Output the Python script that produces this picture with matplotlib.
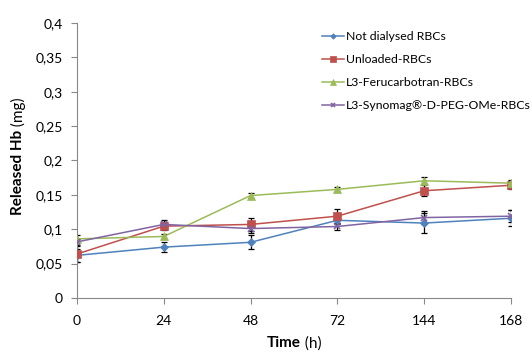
import numpy as np
import matplotlib
matplotlib.use("Agg")
import matplotlib.pyplot as plt
from matplotlib.ticker import FuncFormatter

plt.rcParams['font.family'] = ['Lato', 'DejaVu Sans']

time_labels = ["0", "24", "48", "72", "144", "168"]

not_dialysed = [0.062, 0.074, 0.081, 0.113, 0.109, 0.116]
not_dialysed_err = [0.010, 0.007, 0.010, 0.004, 0.015, 0.012]
unloaded = [0.064, 0.1045, 0.107, 0.119, 0.156, 0.164]
unloaded_err = [0.012, 0.006, 0.009, 0.011, 0.008, 0.005]
ferucarbotran = [0.086, 0.0895, 0.149, 0.158, 0.1705, 0.167]
ferucarbotran_err = [0.005, 0.004, 0.004, 0.004, 0.005, 0.004]
synomag = [0.0816, 0.107, 0.101, 0.104, 0.117, 0.119]
synomag_err = [0.004, 0.006, 0.007, 0.005, 0.009, 0.009]

series = [
    ("Not dialysed RBCs", not_dialysed, not_dialysed_err, "#4F81BD", "D", 4),
    ("Unloaded-RBCs", unloaded, unloaded_err, "#C0504D", "s", 6),
    ("L3-Ferucarbotran-RBCs", ferucarbotran, ferucarbotran_err, "#9BBB59", "^", 6),
    ("L3-Synomag®-D-PEG-OMe-RBCs", synomag, synomag_err, "#8064A2", "x", 5),
]

fig = plt.figure(figsize=(5.32, 3.52), dpi=100)
ax = fig.add_axes([0.1447, 0.1534, 0.8158, 0.7813])

x = np.arange(len(time_labels))
for name, vals, err, col, mk, ms in series:
    ax.errorbar(x, vals, yerr=err, fmt='none', ecolor='black', elinewidth=0.9,
                capsize=2.5, capthick=0.9, zorder=2)
    ax.plot(x, vals, color=col, marker=mk, markersize=ms, linewidth=1.1,
            markeredgewidth=1.2 if mk == 'x' else 0.5, label=name, zorder=3)

ax.set_xlim(0, len(time_labels) - 1)
ax.set_ylim(0, 0.4)
ax.set_xticks(x)
ax.set_xticklabels(time_labels)
ax.set_yticks(np.arange(0, 0.41, 0.05))
ax.yaxis.set_major_formatter(FuncFormatter(lambda v, p: ('%g' % round(v, 2)).replace('.', ',')))
ax.tick_params(axis='both', labelsize=10, colors='#888888', labelcolor='black',
               length=4, width=0.8)
ax.tick_params(axis='y', pad=6)
ax.tick_params(axis='x', pad=8)
for s in ['top', 'right']:
    ax.spines[s].set_visible(False)
for s in ['left', 'bottom']:
    ax.spines[s].set_color('#888888')
    ax.spines[s].set_linewidth(0.8)

# axis titles: bold part + normal unit
fig.text(0.566, 0.025, "Time", fontsize=11, fontweight='bold', ha='right', va='center')
fig.text(0.566, 0.025, " (h)", fontsize=11, ha='left', va='center')
fig.text(0.034, 0.631, "Released Hb", fontsize=11, fontweight='bold', rotation=90,
         ha='center', va='top')
fig.text(0.034, 0.631, " (mg)", fontsize=11, rotation=90, ha='center', va='bottom')

ax.legend(loc='upper left', bbox_to_anchor=(0.54, 1.01), frameon=False, fontsize=8.8,
          handlelength=1.8, handletextpad=0.15, labelspacing=0.98, markerscale=0.7)

fig.savefig("out.png", dpi=100)
